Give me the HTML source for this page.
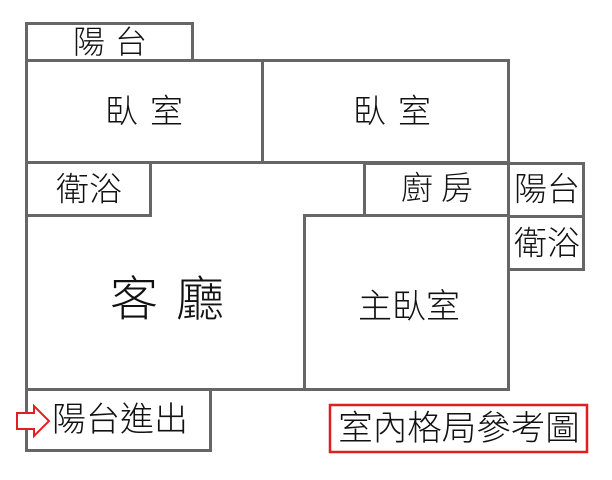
<!DOCTYPE html>
<html><head><meta charset="utf-8"><style>
html,body{margin:0;padding:0;background:#fff;}
svg{display:block}
text{font-family:"Liberation Sans","Noto Sans CJK TC",sans-serif;fill:#111;text-anchor:middle;dominant-baseline:central;font-weight:300}
</style></head><body>
<svg width="612" height="480" viewBox="0 0 612 480">
<g fill="none" stroke="#666" stroke-width="3">
<rect x="26.5" y="23.5" width="166" height="37"/>
<rect x="26.5" y="60.5" width="236" height="102"/>
<rect x="262.5" y="60.5" width="246" height="102"/>
<rect x="26.5" y="162.5" width="124" height="53"/>
<rect x="364.5" y="163.5" width="144" height="52"/>
<rect x="508.5" y="163.5" width="75" height="53"/>
<rect x="508.5" y="216.5" width="75" height="53"/>
<rect x="304.5" y="215.5" width="204" height="174"/>
<line x1="26.5" y1="162" x2="26.5" y2="451"/>
<line x1="26" y1="389.5" x2="305" y2="389.5"/>
<rect x="26.5" y="389.5" width="184" height="61"/>
</g>
<rect x="330" y="405" width="257" height="47" fill="none" stroke="#e02020" stroke-width="2.5"/>
<path d="M17 413 H34 V406 L49 421 L34 436 V429 H17 Z" fill="#fff" stroke="#e02020" stroke-width="2"/>
<text x="115" y="42" font-size="32" letter-spacing="10">陽台</text>
<text x="150" y="111" font-size="33" letter-spacing="12">臥室</text>
<text x="398" y="111" font-size="33" letter-spacing="12">臥室</text>
<text x="89" y="189" font-size="33">衛浴</text>
<text x="441" y="188" font-size="32" letter-spacing="8">廚房</text>
<text x="547" y="189" font-size="33">陽台</text>
<text x="547" y="243" font-size="33">衛浴</text>
<text x="176" y="300" font-size="48" letter-spacing="18">客廳</text>
<text x="409" y="307" font-size="34">主臥室</text>
<text x="120" y="420" font-size="34">陽台進出</text>
<text x="459" y="429" font-size="34.5">室內格局參考圖</text>
</svg>
</body></html>
